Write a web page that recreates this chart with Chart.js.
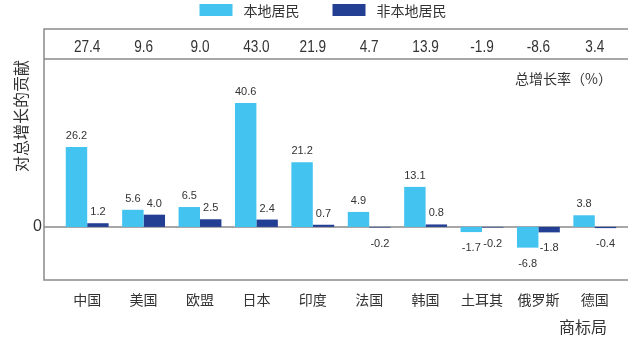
<!DOCTYPE html>
<html lang="zh-CN">
<head>
<meta charset="utf-8">
<title>对总增长的贡献</title>
<script src="https://cdn.jsdelivr.net/npm/chart.js@4.4.1/dist/chart.umd.min.js"></script>
<style>
  html, body { margin: 0; padding: 0; background: #fff; }
  canvas { display: block; }
</style>
</head>
<body>
<canvas id="growthChart" width="640" height="338"></canvas>
<script>
  /* ======================
     DATA
  ====================== */
  const offices = ["中国", "美国", "欧盟", "日本", "印度", "法国", "韩国", "土耳其", "俄罗斯", "德国"];
  const residentShare = [26.2, 5.6, 6.5, 40.6, 21.2, 4.9, 13.1, -1.7, -6.8, 3.8];
  const nonResidentShare = [1.2, 4.0, 2.5, 2.4, 0.7, -0.2, 0.8, -0.2, -1.8, -0.4];
  const totalGrowth = [27.4, 9.6, 9.0, 43.0, 21.9, 4.7, 13.9, -1.9, -8.6, 3.4];
  const seriesNames = ["本地居民", "非本地居民"];
  const yTickValues = [0];

  /* ---------- STYLE ---------- */
  const CYAN = "#43c3f0";
  const NAVY = "#233f94";
  const LINE = "#8a8a8a";
  const TEXT = "#333333";
  const CJK = '"Noto Sans CJK SC", sans-serif';
  const PLAIN = '"Liberation Sans", Arial, sans-serif';

  /* ======================
     FRAME + ZERO LINE
  ====================== */
  const frameLines = {
    id: "frameLines",
    beforeDatasetsDraw(chart) {
      const { ctx, chartArea: a, scales: { y } } = chart;
      const left = a.left - 15;
      const right = a.right + 5;
      const top = a.top - 30;
      const zero = y.getPixelForValue(0);

      ctx.save();
      ctx.strokeStyle = LINE;
      ctx.lineWidth = 1.5;
      ctx.beginPath();
      ctx.moveTo(right, top);
      ctx.lineTo(left, top);
      ctx.lineTo(left, a.bottom);
      ctx.lineTo(right, a.bottom);
      ctx.moveTo(left, a.top);
      ctx.lineTo(right, a.top);
      ctx.moveTo(left, zero);
      ctx.lineTo(right, zero);
      ctx.stroke();
      ctx.restore();
    }
  };

  /* ======================
     LABELS, TOTALS, LEGEND
  ====================== */
  const annotations = {
    id: "annotations",
    afterDatasetsDraw(chart) {
      const { ctx, chartArea: a, scales: { x } } = chart;
      ctx.save();
      ctx.fillStyle = TEXT;
      ctx.textAlign = "center";
      ctx.textBaseline = "middle";

      // value above / below each bar
      ctx.font = "11px " + PLAIN;
      chart.data.datasets.forEach((ds, di) => {
        chart.getDatasetMeta(di).data.forEach((bar, i) => {
          const v = ds.data[i];
          const y = v >= 0 ? bar.y - 11 : bar.y + 16;
          ctx.fillText(v.toFixed(1), bar.x, y);
        });
      });

      // total growth row, condensed digits
      ctx.font = "17px " + PLAIN;
      totalGrowth.forEach((v, i) => {
        ctx.save();
        ctx.translate(x.getPixelForValue(i), a.top - 12);
        ctx.scale(0.8, 1);
        ctx.fillText(v.toFixed(1), 0, 0);
        ctx.restore();
      });

      ctx.font = "14px " + CJK;
      ctx.textAlign = "right";
      ctx.fillText("总增长率（%）", a.right - 11, a.top + 20);

      ctx.font = "16px " + CJK;
      ctx.textAlign = "center";
      ctx.fillText("商标局", a.right - 40, 327);

      // y axis title
      ctx.translate(21, 116);
      ctx.rotate(-Math.PI / 2);
      ctx.fillText("对总增长的贡献", 0, 0);
      ctx.restore();

      // legend
      ctx.save();
      ctx.font = "14px " + CJK;
      ctx.textBaseline = "middle";
      const boxW = 33, boxH = 12, gap = 11, itemGap = 33;
      const widths = chart.data.datasets.map(ds => ctx.measureText(ds.label).width);
      const total = widths.reduce((s, w) => s + boxW + gap + w, 0) + itemGap;
      let lx = 323 - total / 2;
      chart.data.datasets.forEach((ds, di) => {
        ctx.fillStyle = ds.backgroundColor;
        ctx.fillRect(lx, 4, boxW, boxH);
        ctx.fillStyle = TEXT;
        ctx.fillText(ds.label, lx + boxW + gap, 10.5);
        lx += boxW + gap + widths[di] + itemGap;
      });
      ctx.restore();
    }
  };

  /* ======================
     CHART
  ====================== */
  new Chart(document.getElementById("growthChart"), {
    type: "bar",
    data: {
      labels: offices,
      datasets: [
        { label: seriesNames[0], data: residentShare, backgroundColor: CYAN },
        { label: seriesNames[1], data: nonResidentShare, backgroundColor: NAVY }
      ]
    },
    options: {
      responsive: false,
      animation: false,
      devicePixelRatio: 1,
      categoryPercentage: 0.76,
      barPercentage: 1,
      layout: { padding: { top: 59, right: 17, left: 0, bottom: 0 } },
      plugins: {
        legend: { display: false },
        tooltip: { enabled: false }
      },
      scales: {
        x: {
          grid: { display: false, drawTicks: false },
          border: { display: false },
          ticks: { color: TEXT, font: { family: CJK, size: 14 }, padding: 11 },
          afterFit: s => { s.height = 58; }
        },
        y: {
          min: -17.4,
          max: 55,
          grid: { display: false, drawTicks: false },
          border: { display: false },
          ticks: {
            stepSize: 10,
            padding: 17,
            color: TEXT,
            font: { family: PLAIN, size: 16 },
            callback: v => (yTickValues.includes(v) ? String(v) : null)
          },
          afterFit: s => { s.width = 59; }
        }
      }
    },
    plugins: [frameLines, annotations]
  });
</script>
</body>
</html>
